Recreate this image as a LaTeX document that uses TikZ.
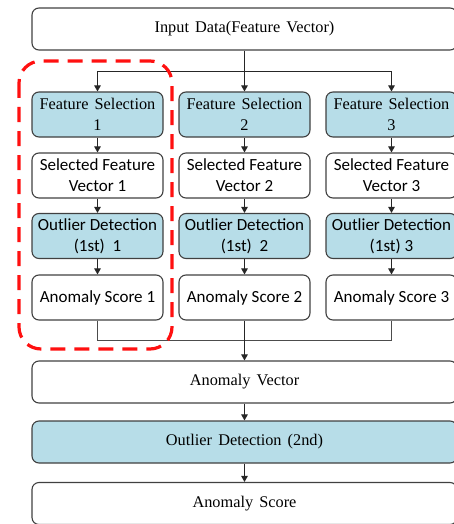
\documentclass[tikz,border=0pt]{standalone}
\usepackage{fontspec}
\setmainfont{Liberation Serif}
\newfontfamily\serwide[WordSpace=1.5]{Liberation Serif}
\newfontfamily\calfont{Carlito}
\usetikzlibrary{arrows.meta}
\definecolor{boxblue}{HTML}{B7DDE8}
\definecolor{edge}{HTML}{404040}
\definecolor{hilite}{HTML}{FF1010}
\tikzset{
  boxbase/.style={draw=edge, line width=1.1pt, rounded corners=7pt, align=center,
    inner sep=0pt, text=black},
  colbox/.style={boxbase, minimum width=131pt, minimum height=45pt},
  widebox/.style={boxbase, minimum width=425pt, minimum height=42pt,
    font=\serwide\fontsize{16.3}{19}\selectfont},
  serbox/.style={colbox, fill=boxblue, font=\serwide\fontsize{16.3}{20.5}\selectfont},
  sansbox/.style={colbox, font=\calfont\fontsize{17}{21}\selectfont},
  arr/.style={-{Triangle[length=6pt,width=6.5pt]}, line width=0.9pt, draw=black!85},
  ln/.style={line width=0.9pt, draw=black!70},
}
\begin{document}
\begin{tikzpicture}[x=1pt,y=-1pt]
\useasboundingbox (0,0) rectangle (454,524);
\clip (0,0) rectangle (454,524);

% top input box
\node[widebox] (in) at (244.5,29) {Input Data(Feature Vector)};

% three parallel branches
\foreach \i/\cx in {1/97.5, 2/244.5, 3/391.5} {
  \node[serbox] (fs\i) at (\cx,114.5) {Feature Selection\\\i};
  \node[sansbox] (sv\i) at (\cx,175.5) {Selected Feature\\Vector \i};
  \node[sansbox, fill=boxblue] (od\i) at (\cx,236) {Outlier Detection\\(1st)~\ifnum\i=3\else\ \fi\i};
  \node[sansbox] (as\i) at (\cx,297.5) {Anomaly Score \i};
}

% lower full-width boxes
\node[widebox] (av) at (244.5,382) {Anomaly Vector};
\node[widebox, fill=boxblue] (od) at (244.5,442) {Outlier Detection (2nd)};
\node[widebox] (sc) at (244.5,503.5) {Anomaly Score};

% fan-out from the input
\coordinate (br) at (244.5,71);
\draw[arr] (in.south) -- (fs2.north);
\draw[arr] (br) -| (fs1.north);
\draw[arr] (br) -| (fs3.north);

% arrows inside each branch
\foreach \i in {1,2,3} {
  \draw[arr] (fs\i) -- (sv\i);
  \draw[arr] (sv\i) -- (od\i);
  \draw[arr] (od\i) -- (as\i);
}

% merge of the anomaly scores
\coordinate (mg) at (244.5,340);
\draw[ln] (as1.south) |- (mg);
\draw[ln] (as3.south) |- (mg);
\draw[arr] (as2.south) -- (av.north);
\draw[arr] (av) -- (od);
\draw[arr] (od) -- (sc);

% highlighted first branch
\draw[hilite, line width=3.2pt, dash pattern=on 15pt off 9pt, rounded corners=22pt]
  (19,61) rectangle (172,349);
\end{tikzpicture}
\end{document}
